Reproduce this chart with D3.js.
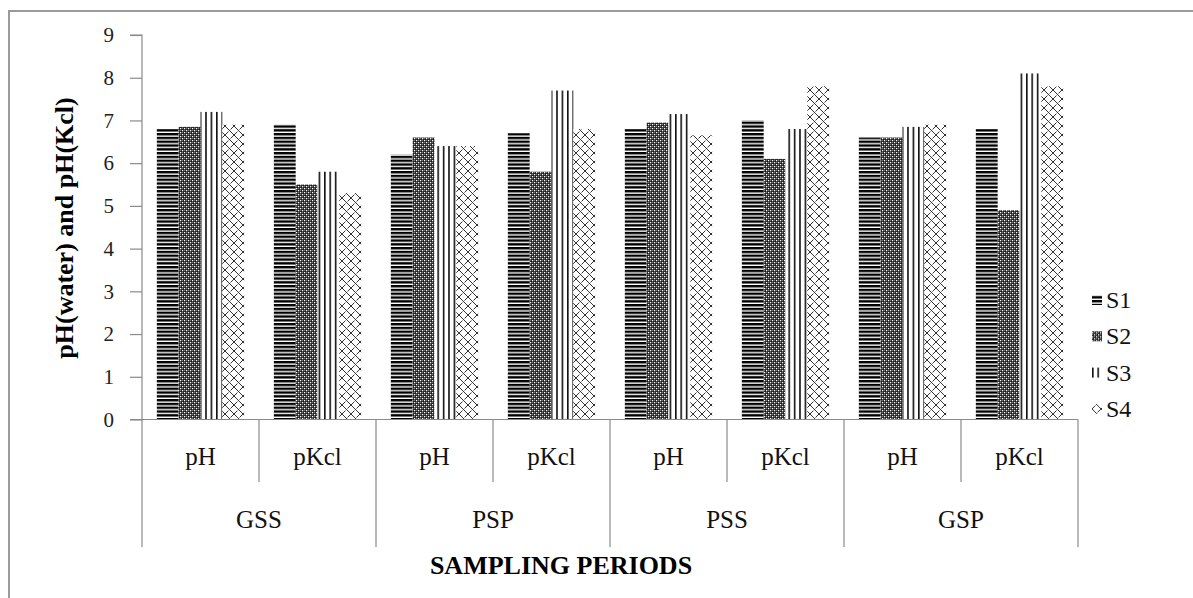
<!DOCTYPE html>
<html>
<head>
<meta charset="utf-8">
<script src="https://cdn.jsdelivr.net/npm/d3@7"></script>
<style>
  html, body { margin: 0; padding: 0; background: #fff; }
  svg { display: block; }
  text { font-family: "Liberation Serif", "Times New Roman", serif; }
</style>
</head>
<body>
<svg id="chart" width="1193" height="598"></svg>
<script>
// Sampling periods and the two measurements taken in each
const periods = ["GSS", "PSP", "PSS", "GSP"];
const measures = ["pH", "pKcl"];
const seriesNames = ["S1", "S2", "S3", "S4"];
const yTicks = [0, 1, 2, 3, 4, 5, 6, 7, 8, 9];

// Values per site, in order GSS pH, GSS pKcl, PSP pH, PSP pKcl, PSS pH, PSS pKcl, GSP pH, GSP pKcl
const S1 = [6.8, 6.9, 6.2, 6.7, 6.8, 7.0, 6.6, 6.8];
const S2 = [6.85, 5.5, 6.6, 5.8, 6.95, 6.1, 6.6, 4.9];
const S3 = [7.2, 5.8, 6.4, 7.7, 7.15, 6.8, 6.85, 8.1];
const S4 = [6.9, 5.3, 6.4, 6.8, 6.65, 7.8, 6.9, 7.8];
const seriesValues = [S1, S2, S3, S4];

const svg = d3.select("#chart");

// Outer chart frame (top and left edges visible)
svg.append("path")
  .attr("d", "M9,598 L9,11 L1193,11")
  .attr("fill", "none").attr("stroke", "#9a9a9a").attr("stroke-width", 2);

// ---- hatch patterns ----
const defs = svg.append("defs");

// S1: dense horizontal lines
const p1 = defs.append("pattern").attr("id", "pat-S1")
  .attr("patternUnits", "userSpaceOnUse").attr("width", 8).attr("height", 3.8);
p1.append("rect").attr("width", 8).attr("height", 3.8).attr("fill", "#fff");
p1.append("rect").attr("width", 8).attr("height", 2.4).attr("fill", "#000");

// S2: dark checker
const p2 = defs.append("pattern").attr("id", "pat-S2")
  .attr("patternUnits", "userSpaceOnUse").attr("width", 4).attr("height", 4);
p2.append("rect").attr("width", 4).attr("height", 4).attr("fill", "#111");
p2.append("rect").attr("x", 0).attr("y", 0).attr("width", 1.3).attr("height", 1.3).attr("fill", "#fff");
p2.append("rect").attr("x", 2).attr("y", 2).attr("width", 1.3).attr("height", 1.3).attr("fill", "#fff");
p2.append("rect").attr("x", 2).attr("y", 0).attr("width", 1.3).attr("height", 1.3).attr("fill", "#777");
p2.append("rect").attr("x", 0).attr("y", 2).attr("width", 1.3).attr("height", 1.3).attr("fill", "#777");

// S3: vertical lines
const p3 = defs.append("pattern").attr("id", "pat-S3")
  .attr("patternUnits", "userSpaceOnUse").attr("width", 5.4).attr("height", 8);
p3.append("rect").attr("width", 5.4).attr("height", 8).attr("fill", "#fff");
p3.append("rect").attr("x", 0).attr("width", 1.6).attr("height", 8).attr("fill", "#111");

// S4: shingle / weave
const p4 = defs.append("pattern").attr("id", "pat-S4")
  .attr("patternUnits", "userSpaceOnUse").attr("width", 9).attr("height", 9);
p4.append("rect").attr("width", 9).attr("height", 9).attr("fill", "#fff");
p4.append("path")
  .attr("d", "M0,0 L9,9 M0,9 L3.5,5.5 M5.5,3.5 L9,0 M-1,1 L1,-1 M8,10 L10,8")
  .attr("fill", "none").attr("stroke", "#333").attr("stroke-width", 1);

// ---- scales ----
const plotLeft = 142, plotRight = 1078, plotTop = 35, plotBottom = 419.5;
const cats = [];
periods.forEach(p => measures.forEach(m => cats.push(p + "|" + m)));

const x0 = d3.scaleBand().domain(cats).range([plotLeft, plotRight]).paddingInner(0).paddingOuter(0);
const x1 = d3.scaleBand().domain(seriesNames).range([0, x0.bandwidth()])
  .paddingInner(0).paddingOuter(0.68);
const y = d3.scaleLinear().domain([0, 9]).range([plotBottom, plotTop]);

// ---- bars ----
const barData = [];
seriesNames.forEach((s, si) => {
  cats.forEach((c, ci) => barData.push({ s, c, v: seriesValues[si][ci] }));
});

svg.append("g").selectAll("rect").data(barData).join("rect")
  .attr("x", d => x0(d.c) + x1(d.s))
  .attr("y", d => y(d.v))
  .attr("width", x1.bandwidth())
  .attr("height", d => y(0) - y(d.v))
  .attr("fill", d => `url(#pat-${d.s})`);

// ---- y axis ----
const yAxis = d3.axisLeft(y).tickValues(yTicks).tickSize(12).tickPadding(16).tickFormat(d3.format("d"));
const gy = svg.append("g").attr("transform", `translate(${plotLeft},0)`).call(yAxis);
gy.select(".domain").attr("stroke", "#8a8a8a").attr("stroke-width", 1.2).attr("d", `M-12,${plotTop}H0V${plotBottom}H-12`);
gy.selectAll(".tick line").attr("stroke", "#8a8a8a").attr("stroke-width", 1.2);
gy.selectAll(".tick text")
  .attr("font-family", "Liberation Serif, Times New Roman, serif")
  .attr("font-size", 21).attr("fill", "#222");

// ---- category axis (two levels) ----
const axisG = svg.append("g").attr("stroke", "#8a8a8a").attr("stroke-width", 1.2);
axisG.append("line").attr("x1", plotLeft).attr("x2", plotRight).attr("y1", plotBottom).attr("y2", plotBottom);

// dividers between measures and between periods
cats.forEach((c, i) => {
  const xv = x0(c);
  const isPeriodEdge = i % measures.length === 0;
  axisG.append("line")
    .attr("x1", xv).attr("x2", xv)
    .attr("y1", plotBottom).attr("y2", isPeriodEdge ? 547 : 482);
});
axisG.append("line").attr("x1", plotRight).attr("x2", plotRight).attr("y1", plotBottom).attr("y2", 547);

// measure labels
svg.append("g").selectAll("text").data(cats).join("text")
  .attr("x", c => x0(c) + x0.bandwidth() / 2)
  .attr("y", 465)
  .attr("text-anchor", "middle")
  .attr("font-size", 25).attr("fill", "#111")
  .text(c => c.split("|")[1]);

// period labels
svg.append("g").selectAll("text").data(periods).join("text")
  .attr("x", p => x0(p + "|" + measures[0]) + x0.bandwidth())
  .attr("y", 528)
  .attr("text-anchor", "middle")
  .attr("font-size", 25).attr("fill", "#111")
  .text(p => p);

// axis titles
svg.append("text")
  .attr("x", 561).attr("y", 574)
  .attr("text-anchor", "middle")
  .attr("font-size", 26).attr("font-weight", "bold").attr("fill", "#000")
  .text("SAMPLING PERIODS");

svg.append("text")
  .attr("transform", "translate(73,228) rotate(-90)")
  .attr("text-anchor", "middle")
  .attr("font-size", 26).attr("font-weight", "bold").attr("fill", "#000")
  .text("pH(water) and pH(Kcl)");

// ---- legend ----
const legend = svg.append("g").selectAll("g").data(seriesNames).join("g")
  .attr("transform", (d, i) => `translate(1092,${300 + i * 36.3})`);
legend.append("rect")
  .attr("x", 0).attr("y", -5).attr("width", 10).attr("height", 10)
  .attr("fill", d => `url(#pat-${d})`);
legend.append("text")
  .attr("x", 14).attr("y", 8)
  .attr("font-size", 24).attr("fill", "#111")
  .text(d => d);
</script>
</body>
</html>
